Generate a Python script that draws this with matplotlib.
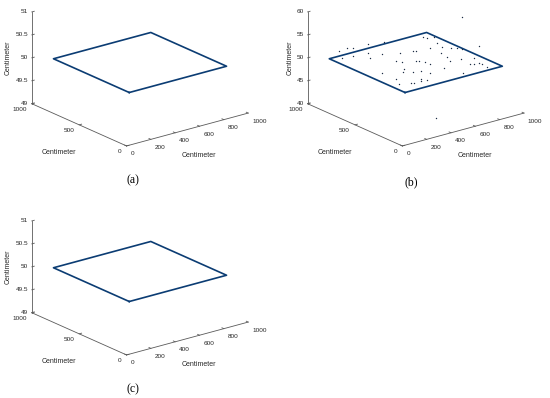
import matplotlib
matplotlib.use("Agg")
import matplotlib.pyplot as plt
from mpl_toolkits.mplot3d import proj3d

plt.rcParams["font.family"] = ["Liberation Sans", "DejaVu Sans"]

# square test plane (cm) at 50 cm height
plane_x = [100, 900, 900, 100, 100]
plane_y = [100, 100, 900, 900, 100]
plane_h = 50

x_ticks = [0, 200, 400, 600, 800, 1000]
y_ticks = [0, 500, 1000]
z_ticks_flat = [49, 49.5, 50, 50.5, 51]
z_labels_flat = ["49", "49.5", "50", "50.5", "51"]
z_ticks_meas = [40, 45, 50, 55, 60]
z_labels_meas = ["40", "45", "50", "55", "60"]

# measured points shown in (b)
pts_x = [137, 214, 242, 179, 253, 361, 414, 370, 313, 423, 523, 566, 578, 416,
         432, 519, 535, 367, 323, 378, 427, 201, 207, 169, 234, 261, 335, 312,
         672, 837, 679, 728, 722, 681, 762, 799, 827, 837, 910, 740, 728, 694,
         765, 852, 558, 550, 758, 775, 819, 818, 808, 578, 615, 455, 356, 390]
pts_y = [840, 858, 836, 867, 849, 824, 727, 835, 747, 756, 701, 612, 603, 602,
         558, 521, 515, 450, 406, 377, 355, 478, 337, 248, 214, 207, 237, 207,
         650, 450, 607, 606, 564, 586, 561, 508, 486, 440, 359, 545, 459, 390,
         368, 338, 474, 418, 255, 241, 245, 208, 144, 301, 152, 293, 197, 149]
pts_z = [52, 52, 52, 50, 50, 52, 53, 50, 50, 50, 50, 51, 51, 50,
         50, 50, 50, 50, 50, 50, 50, 50, 50, 50, 50, 50, 50, 50,
         53, 58, 53, 53, 52, 51, 51, 51, 51, 51, 52, 50, 50, 50,
         50, 50, 50, 50, 50, 50, 50, 50, 50, 50, 50, 50, 50, 42]

FIG_W, FIG_H = 550, 398
AX_COLOR = "#5a5a5a"
TXT_COLOR = "#262626"
LINE_COLOR = "#0b3c73"

fig = plt.figure(figsize=(FIG_W / 100, FIG_H / 100), dpi=100)


def axes_rect(cx, cy, size=232):
    # cx, cy: pixel position of the box centre (cy measured from top)
    half = 0.5135 * size
    return [(cx - half) / FIG_W, (FIG_H - cy - half) / FIG_H,
            size / FIG_W, size / FIG_H]


def put_text(ax, x, y, z, s, dx, dy, **kw):
    # project the 3D anchor once, then place a plain 2D annotation
    px, py, _ = proj3d.proj_transform(x, y, z, ax.get_proj())
    ax.annotate(s, xy=(px, py), xycoords="data", xytext=(dx, dy),
                textcoords="offset pixels", annotation_clip=False,
                color=TXT_COLOR, **kw)


def draw_panel(rect, zlim, zticks, zlabels, zlabel_dx, points=None):
    ax = fig.add_axes(rect, projection="3d", proj_type="ortho")
    ax.set_xlim(0, 1000)
    ax.set_ylim(0, 1000)
    ax.set_zlim(*zlim)
    ax.set_box_aspect((1, 1, 0.635))
    ax.view_init(elev=20.3, azim=-127.9)
    ax.set_axis_off()

    z0, z1 = zlim
    kw = dict(color=AX_COLOR, lw=0.6, clip_on=False)
    ax.plot([0, 1000], [0, 0], [z0, z0], **kw)
    ax.plot([0, 0], [0, 1000], [z0, z0], **kw)
    ax.plot([0, 0], [1000, 1000], [z0, z1], **kw)

    for xv in x_ticks:
        ax.plot([xv, xv], [0, 20], [z0, z0], **kw)
        put_text(ax, xv, 0, z0, str(xv), 4, -8, fontsize=4.6,
                 ha="left", va="center")
    for yv in y_ticks:
        ax.plot([0, 20], [yv, yv], [z0, z0], **kw)
        put_text(ax, 0, yv, z0, str(yv), -5, -6, fontsize=4.6,
                 ha="right", va="center")
    for zv, zl in zip(zticks, zlabels):
        ax.plot([0, 20], [1000, 1000], [zv, zv], **kw)
        put_text(ax, 0, 1000, zv, zl, -4, 0, fontsize=4.6,
                 ha="right", va="center")

    zm = (z0 + z1) / 2
    put_text(ax, 500, 0, z0, "Centimeter", 12, -25.5, fontsize=5,
             ha="center", va="center")
    put_text(ax, 0, 500, z0, "Centimeter", -20, -28, fontsize=5,
             ha="center", va="center")
    put_text(ax, 0, 1000, zm, "Centimeter", zlabel_dx, 0, fontsize=5,
             ha="center", va="center", rotation=90)

    ax.plot(plane_x, plane_y, [plane_h] * len(plane_x), color=LINE_COLOR,
            lw=1.2, clip_on=False)
    if points is not None:
        ax.plot(*points, ls="none", marker="o", ms=1.0, mew=0,
                color="#1c2c44", clip_on=False)
    return ax


draw_panel(axes_rect(140, 62.5), (49, 51), z_ticks_flat, z_labels_flat, -24)
draw_panel(axes_rect(415.8, 62.5), (40, 60), z_ticks_meas, z_labels_meas, -18,
           points=(pts_x, pts_y, pts_z))
draw_panel(axes_rect(140, 271.5), (49, 51), z_ticks_flat, z_labels_flat, -24)

cap = dict(fontsize=8.5, family=["Liberation Serif", "DejaVu Serif"],
           ha="center", va="center", color="black")
fig.text(133 / FIG_W, 1 - 180 / FIG_H, "(a)", **cap)
fig.text(411 / FIG_W, 1 - 182 / FIG_H, "(b)", **cap)
fig.text(133 / FIG_W, 1 - 389 / FIG_H, "(c)", **cap)

fig.savefig("out.png", dpi=100)
